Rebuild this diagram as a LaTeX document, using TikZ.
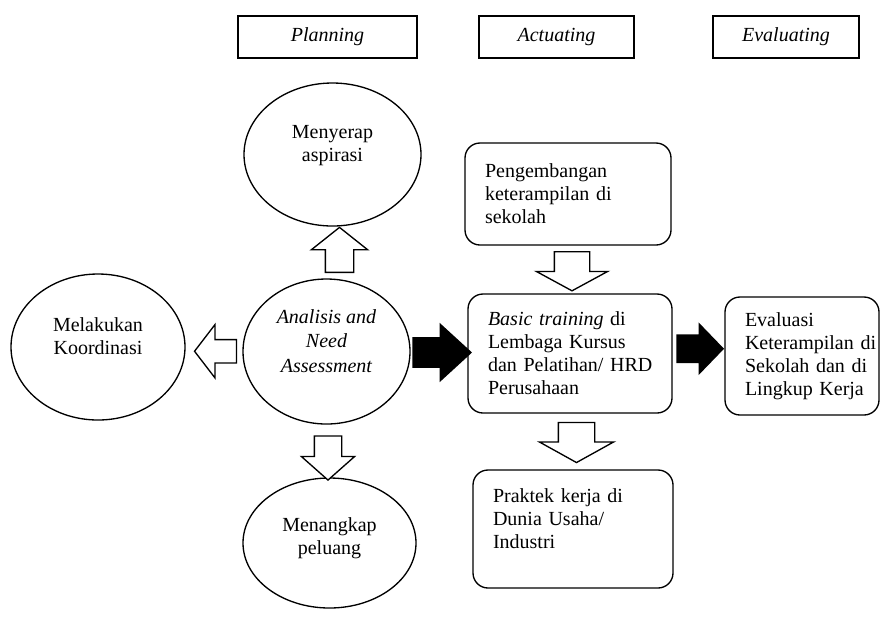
\documentclass[tikz,border=0pt]{standalone}
\usepackage{fontspec}
\setmainfont{Liberation Serif}
\usetikzlibrary{shapes.geometric,shapes.arrows,calc}
\newcommand\tks{\fontsize{12}{13.8}\selectfont}
\tikzset{
  judul/.style={draw, line width=1.2pt, minimum height=25.2pt, font=\tks\itshape},
  elips/.style={draw, ellipse, line width=0.8pt, align=center, text depth=13pt, font=\tks},
  kotak/.style={draw, rounded corners=9pt, line width=0.8pt, align=left, inner xsep=12pt, font=\tks},
  putih/.style={single arrow, draw, fill=white, line width=0.8pt, inner xsep=0pt},
  hitam/.style={single arrow, draw, fill=black, line width=0.8pt, inner xsep=0pt}
}

\begin{document}
\begin{tikzpicture}[x=0.6pt,y=-0.6pt]
\useasboundingbox (0,0) rectangle (881,619);
% tahap
\foreach\n/\cx/\w in{Planning/327.5/107.4, Actuating/556.5/93, Evaluating/786/87.6}
\node[judul, minimum width=\w pt] (h\n) at (\cx,37) {\n};
% lingkaran planning
\node[elips, minimum width=106.2pt, minimum height=85.8pt] (aspir) at (332.5,154.5) {Menyerap\\aspirasi};
\node[elips, minimum width=100.2pt, minimum height=87pt, font=\fontsize{12}{14.7}\selectfont\itshape] (anal) at (326.5,351.5) {Analisis and\\Need\\Assessment};
\node[elips, minimum width=104.4pt, minimum height=87.6pt] (koord) at (98,347) {Melakukan\\Koordinasi};
\node[elips, minimum width=103.8pt, minimum height=78pt, text depth=8pt] (peluang) at (329.5,543) {Menangkap\\peluang};
% kotak actuating dan evaluating
\node[kotak, text width=99.6pt, minimum height=61.2pt] (kembang) at (568,194) {\mbox{Pengembangan}\\\mbox{keterampilan di}\\sekolah};
\node[kotak, text width=98.4pt, minimum height=71.4pt] (basic) at (570,353.5) {\mbox{\textit{Basic training} di}\\\mbox{Lembaga Kursus}\\\mbox{dan Pelatihan/ HRD}\\Perusahaan};
\node[kotak, text width=96pt, minimum height=70.8pt, text depth=40pt] (praktek) at (573,529) {\mbox{Praktek kerja di}\\\mbox{Dunia Usaha/}\\Industri};
\node[kotak, text width=68.4pt, minimum height=70.8pt] (evalu) at (802,356) {Evaluasi\\\mbox{Keterampilan di}\\\mbox{Sekolah dan di}\\\mbox{Lingkup Kerja}};
% panah
\node[putih, rotate=90, minimum height=27pt, inner ysep=8.1pt, single arrow head extend=8.4pt, single arrow tip angle=103] (p1) at ($(aspir.south)!0.5!(anal.north)+(10,3)$) {};
\node[putih, rotate=180, minimum height=25.2pt, inner ysep=6.6pt, single arrow head extend=9pt, single arrow tip angle=105] (p2) at ($(koord.east)!0.5!(anal.west)+(6,2)$) {};
\node[putih, rotate=-90, minimum height=26.4pt, inner ysep=7.8pt, single arrow head extend=7.8pt, single arrow tip angle=97] (p3) at ($(anal.south)!0.5!(peluang.north)+(0,1)$) {};
\node[hitam, minimum height=34.8pt, inner ysep=8.4pt, single arrow head extend=8.1pt, single arrow tip angle=85] (p4) at ($(anal.east)!0.5!(basic.west)+(-5,0)$) {};
\node[putih, rotate=-90, minimum height=23.4pt, inner ysep=10.2pt, single arrow head extend=10.8pt, single arrow tip angle=123] (p5) at ($(kembang.south)!0.5!(basic.north)+(3,-3)$) {};
\node[putih, rotate=-90, minimum height=24pt, inner ysep=10.5pt, single arrow head extend=11.4pt, single arrow tip angle=122] (p6) at ($(basic.south)!0.5!(praktek.north)+(5,-4)$) {};
\node[hitam, minimum height=27.6pt, inner ysep=7.8pt, single arrow head extend=6.6pt, single arrow tip angle=92] (p7) at ($(basic.east)!0.5!(evalu.west)+(-5,-6)$) {};
\end{tikzpicture}
\end{document}
